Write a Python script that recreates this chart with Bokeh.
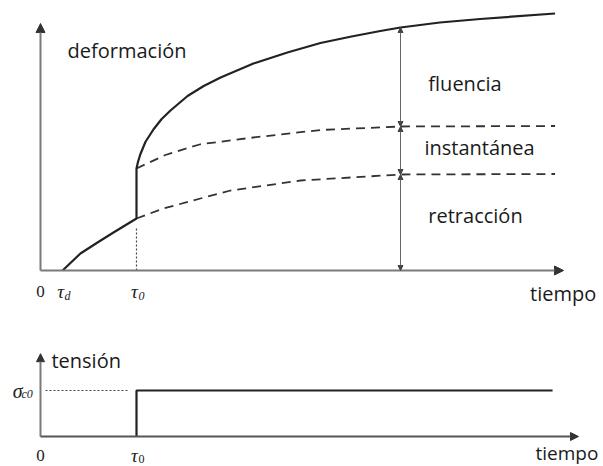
from bokeh.plotting import figure
from bokeh.models import Range1d, Arrow, NormalHead
from bokeh.layouts import column
from bokeh.core.properties import value
from bokeh.embed import file_html
from bokeh.resources import INLINE

# ---------------- data (time in arbitrary units, strain / stress arbitrary units) ----------------
tau_d = 1.15
tau_0 = 5.0
t_ref = 18.75          # time where the components are measured

# shrinkage before loading (solid)
t_shrink_early = [1.15, 2.08, 2.97, 3.80, 5.00]
eps_shrink_early = [0.00, 0.68, 1.12, 1.52, 2.08]
# shrinkage after loading (dashed)
t_shrink_late = [5.00, 6.40, 8.33, 9.90, 13.54, 18.75, 26.80]
eps_shrink_late = [2.08, 2.48, 2.88, 3.20, 3.60, 3.84, 3.86]
# shrinkage + instantaneous (dashed)
t_inst = [5.00, 6.50, 7.66, 8.33, 11.09, 14.58, 18.75, 26.80]
eps_inst = [4.08, 4.62, 4.90, 5.05, 5.32, 5.62, 5.76, 5.78]
# total strain (solid)
t_total = [5.00, 5.08, 5.20, 5.47, 5.89, 6.30, 6.77, 7.66, 8.50, 9.38, 11.09, 12.86, 14.58,
           16.20, 17.70, 18.75, 20.80, 22.90, 26.80]
eps_total = [4.08, 4.35, 4.65, 5.15, 5.65, 6.05, 6.40, 6.98, 7.38, 7.72, 8.28, 8.72, 9.10,
             9.36, 9.58, 9.72, 9.92, 10.06, 10.28]

# stress history
t_stress = [5.0, 5.0, 26.67]
sigma = [0.0, 1.0, 1.0]
sigma_c0 = 1.0

# axis extents
t_axis_end_top = 27.24
eps_axis_end = 9.88
t_axis_end_bot = 28.02
sig_axis_end = 1.80

# texts
labels_top = ["deformación", "fluencia", "instantánea", "retracción", "tiempo"]
labels_top_t = [1.41, 20.2, 20.0, 20.2, 25.5]
labels_top_eps = [8.80, 7.48, 4.92, 2.20, -0.92]

# ---------------- styling ----------------
FONT = "Open Sans"
SERIF = "Liberation Serif"
INK = "#222222"
AXIS = "#7a7a7a"
PX_T = 19.2  # pixels per time unit
W = 603

def make_fig(h, y0, y1):
    p = figure(width=W, height=h, output_backend="svg", toolbar_location=None,
               x_range=Range1d(-40 / PX_T, (W - 40) / PX_T), y_range=Range1d(y0, y1),
               x_axis_location=None, y_axis_location=None, min_border=0,
               outline_line_color=None, background_fill_color="white")
    p.grid.visible = False
    return p

# ---------------- top panel ----------------
top = make_fig(310, -1.6, 10.8)

# axes with arrow heads
top.add_layout(Arrow(end=NormalHead(size=9, fill_color="#333333", line_color="#333333"),
                     x_start=0, y_start=0, x_end=0, y_end=eps_axis_end,
                     line_color=AXIS, line_width=2))
top.add_layout(Arrow(end=NormalHead(size=9, fill_color="#333333", line_color="#333333"),
                     x_start=0, y_start=0, x_end=t_axis_end_top, y_end=0,
                     line_color=AXIS, line_width=2))

# dotted marker at tau_0
top.line([tau_0, tau_0], [0, eps_shrink_early[-1] - 0.35], line_color="#444444",
         line_width=1.2, line_dash="2 2")

# dashed curves
top.line(t_shrink_late, eps_shrink_late, line_color="#333333", line_width=1.8, line_dash="9 6")
top.line(t_inst, eps_inst, line_color="#333333", line_width=1.8, line_dash="9 6")

# solid total path
solid_t = t_shrink_early + t_total
solid_e = eps_shrink_early + eps_total
top.line(solid_t, solid_e, line_color=INK, line_width=2.2)

# component arrows at t_ref
idx_sh = t_shrink_late.index(t_ref)
idx_in = t_inst.index(t_ref)
idx_to = t_total.index(t_ref)
levels = [0.0, eps_shrink_late[idx_sh], eps_inst[idx_in], eps_total[idx_to]]
for a, b in zip(levels[:-1], levels[1:]):
    top.add_layout(Arrow(start=NormalHead(size=5, fill_color="#444444", line_color="#444444"),
                         end=NormalHead(size=5, fill_color="#444444", line_color="#444444"),
                         x_start=t_ref, y_start=a, x_end=t_ref, y_end=b,
                         line_color="#666666", line_width=1))

# text labels
top.text(x=labels_top_t, y=labels_top_eps, text=labels_top, text_font=value(FONT),
         text_font_size="20px", text_color="#1a1a1a", text_baseline="middle", text_align="left")

# tick labels
top.text(x=[0], y=[-0.84], text=["0"], text_font=value(SERIF), text_font_size="17px",
         text_color="#222222", text_baseline="middle", text_align="center")
top.text(x=[tau_d, tau_0], y=[-0.84, -0.84], text=["τ", "τ"], text_font=value(SERIF),
         text_font_style="italic", text_font_size="19px", text_color="#222222",
         text_baseline="middle", text_align="center", x_offset=-2)
top.text(x=[tau_d, tau_0], y=[-0.84, -0.84], text=["d", "0"], text_font=value(SERIF),
         text_font_style="italic", text_font_size="12px", text_color="#222222",
         text_baseline="middle", text_align="left", x_offset=2, y_offset=4)

# ---------------- bottom panel ----------------
bot = make_fig(156, -0.652, 2.739)

bot.add_layout(Arrow(end=NormalHead(size=8, fill_color="#333333", line_color="#333333"),
                     x_start=0, y_start=0, x_end=0, y_end=sig_axis_end,
                     line_color=AXIS, line_width=2))
bot.add_layout(Arrow(end=NormalHead(size=8, fill_color="#333333", line_color="#333333"),
                     x_start=0, y_start=0, x_end=t_axis_end_bot, y_end=0,
                     line_color="#555555", line_width=2))

bot.line([0.26, 4.58], [sigma_c0, sigma_c0], line_color="#444444", line_width=1.2, line_dash="2 2")
bot.line(t_stress, sigma, line_color=INK, line_width=2.2)

bot.text(x=[0.57], y=[1.65], text=["tensión"], text_font=value(FONT),
         text_font_size="20px", text_color="#1a1a1a", text_baseline="middle", text_align="left")
bot.text(x=[25.78], y=[-0.36], text=["tiempo"], text_font=value(FONT),
         text_font_size="19px", text_color="#1a1a1a", text_baseline="middle", text_align="left")

bot.text(x=[0], y=[-0.41], text=["0"], text_font=value(SERIF), text_font_size="17px",
         text_color="#222222", text_baseline="middle", text_align="center")
bot.text(x=[tau_0], y=[-0.41], text=["τ"], text_font=value(SERIF), text_font_style="italic",
         text_font_size="19px", text_color="#222222", text_baseline="middle",
         text_align="center", x_offset=-2)
bot.text(x=[tau_0], y=[-0.41], text=["0"], text_font=value(SERIF), text_font_size="12px",
         text_color="#222222", text_baseline="middle", text_align="left", x_offset=2, y_offset=4)

bot.text(x=[0], y=[sigma_c0], text=["σ"], text_font=value(SERIF), text_font_style="italic",
         text_font_size="20px", text_color="#222222", text_baseline="middle",
         text_align="right", x_offset=-18)
bot.text(x=[0], y=[sigma_c0], text=["c0"], text_font=value(SERIF), text_font_style="italic",
         text_font_size="12px", text_color="#222222", text_baseline="middle",
         text_align="left", x_offset=-19, y_offset=3)

layout = column(top, bot, spacing=0)
open("out.html", "w").write(file_html(layout, INLINE))
